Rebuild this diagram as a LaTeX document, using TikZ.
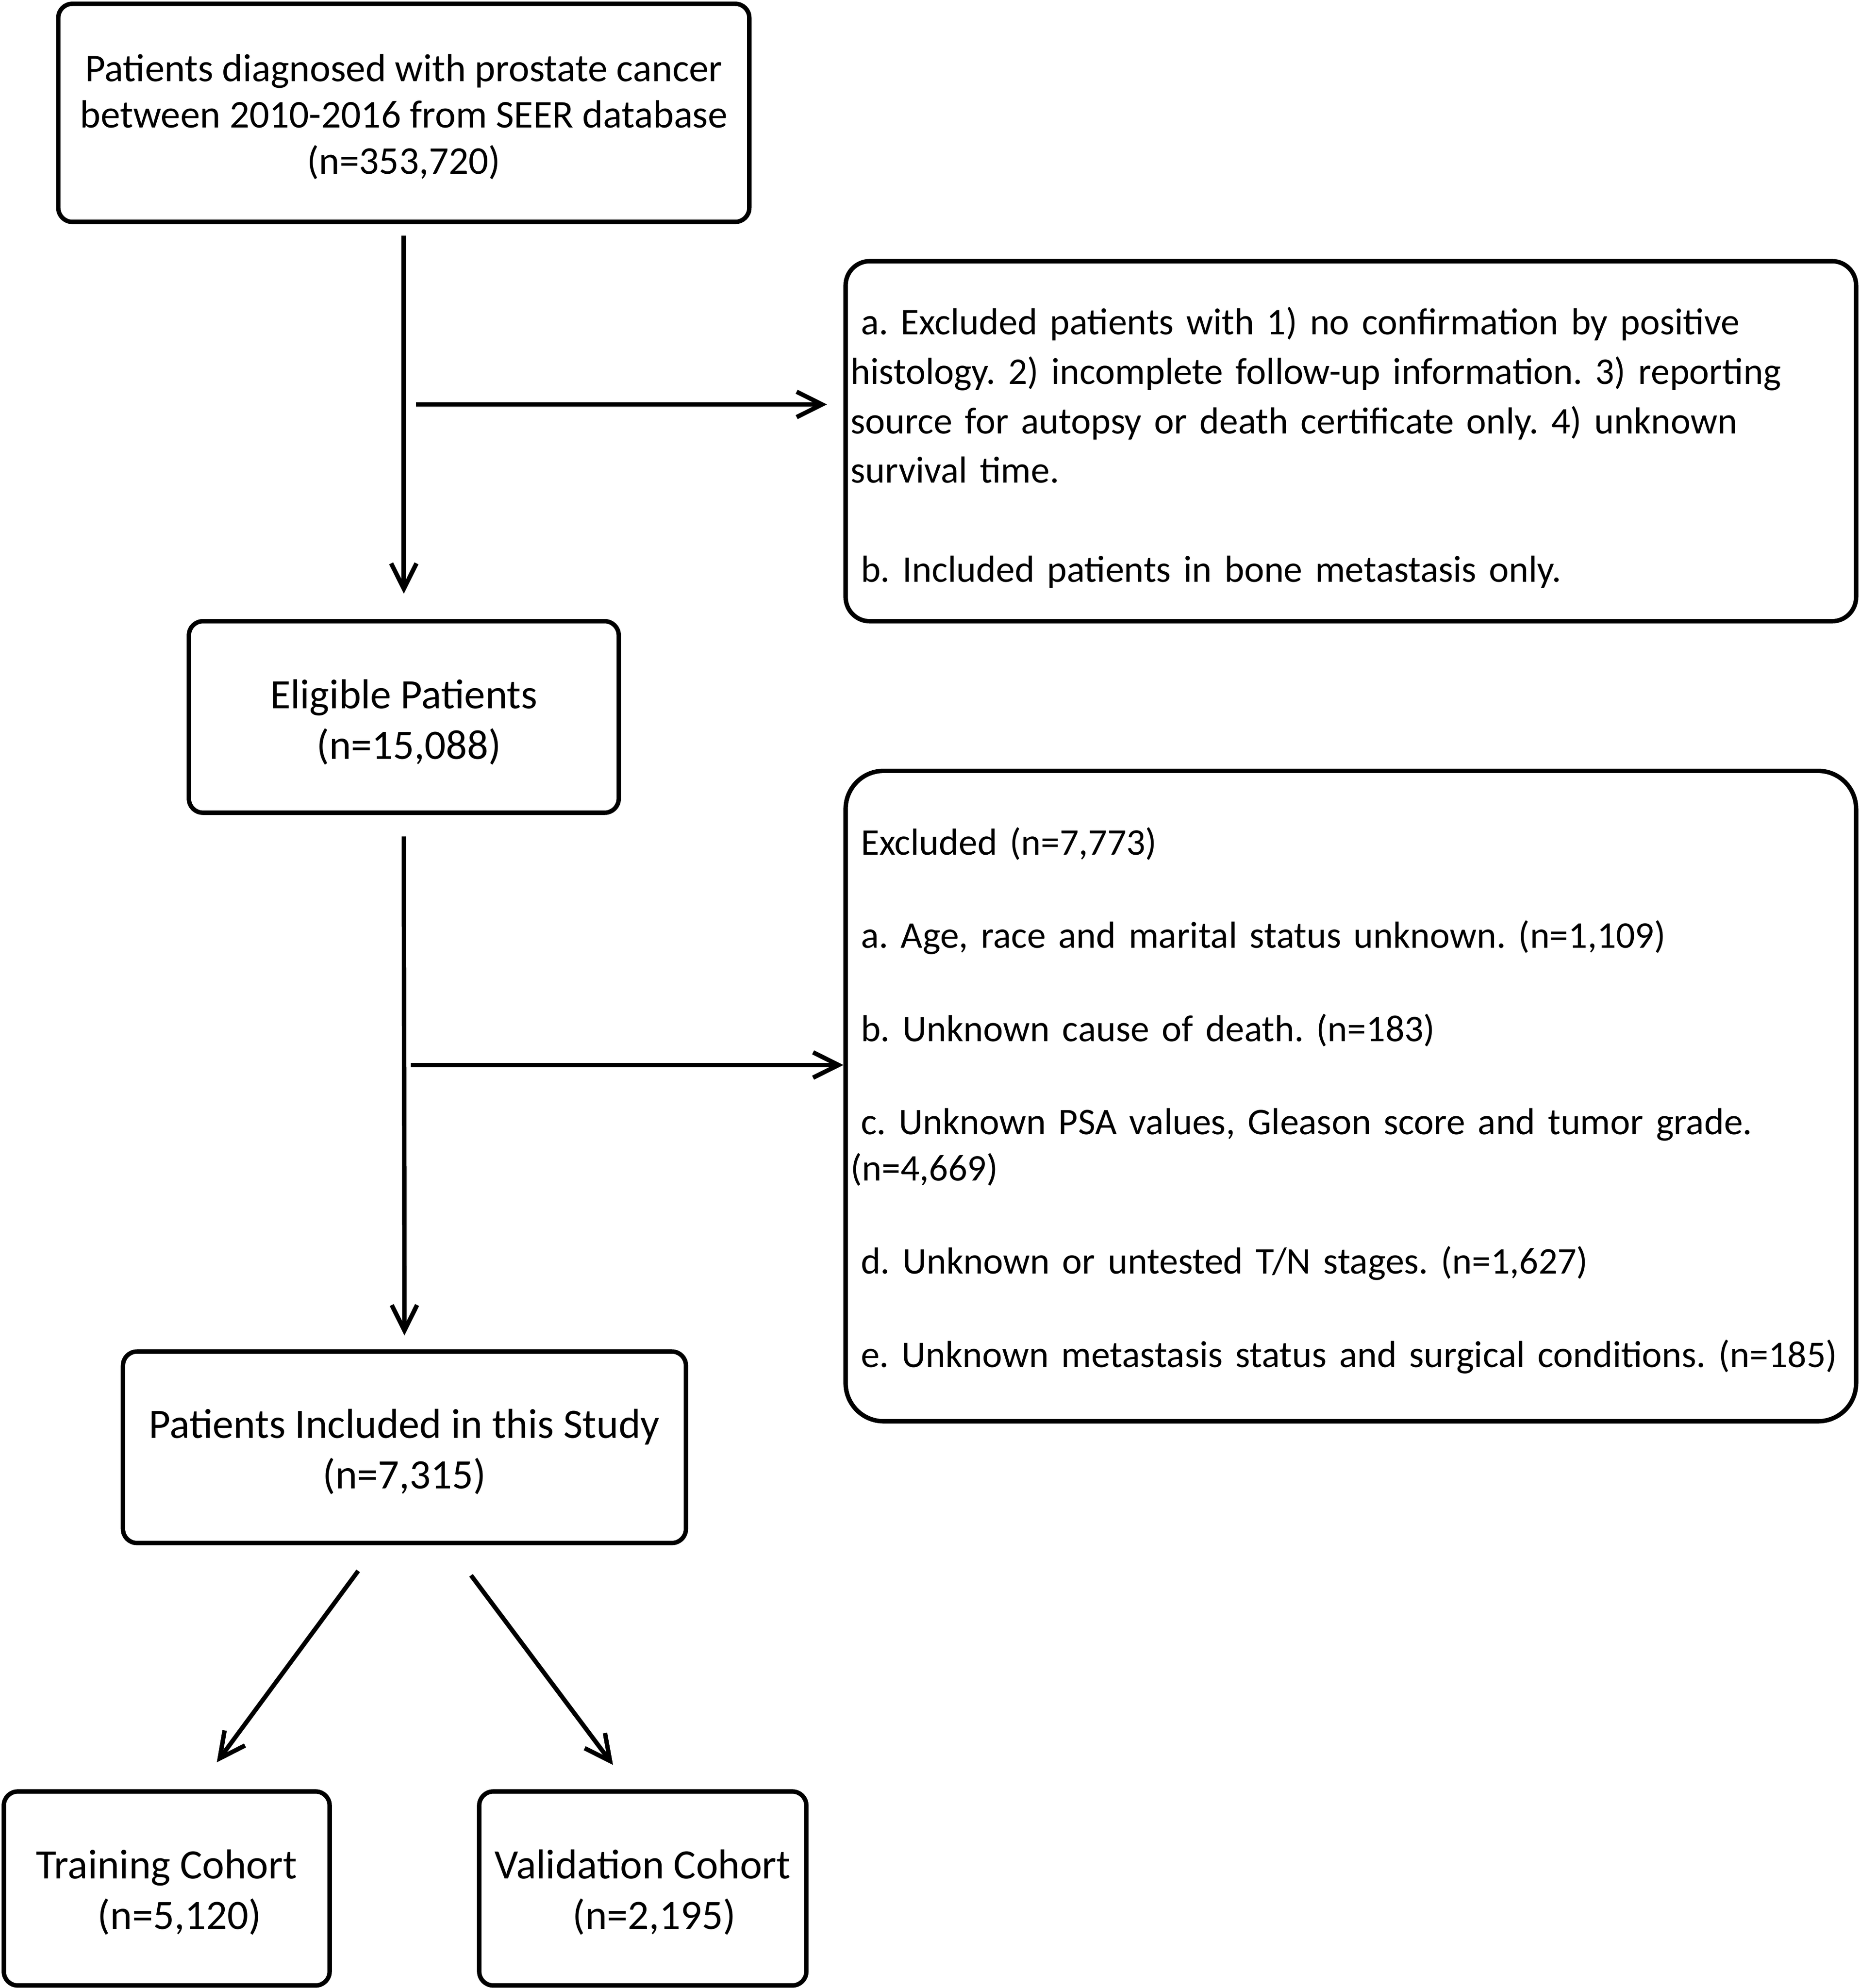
\documentclass[tikz,border=0pt]{standalone}
\usepackage{fontspec}
\setmainfont{Carlito}
\usetikzlibrary{arrows.meta}
\newcommand\mytopstrut[1]{\rule{0pt}{\dimexpr\fontcharht\font`(+#1\relax}}
\begin{document}
\frenchspacing
\begin{tikzpicture}[x=1pt,y=-1pt,
  box/.style={draw, line width=3.5pt, rounded corners=11pt, align=center, inner sep=0pt,
    font=\fontsize{33}{40}\selectfont},
  exbox/.style={draw, line width=3.5pt, align=left, inner xsep=4pt, inner ysep=0pt,
    text width=789pt, minimum width=797pt},
  arr/.style={line width=3.5pt, -{Straight Barb[length=20pt,width=20pt]}}
]
\useasboundingbox (0,0) rectangle (1467,1568);
\fill[white] (0,0) rectangle (1467,1568);

\node[box, minimum width=545pt, minimum height=172pt, font=\fontsize{31}{36.5}\selectfont] (b1) at (318.5,89)
  {\mytopstrut{5pt}Patients diagnosed with prostate cancer\\between 2010-2016 from SEER database\\(n=353,720)};
\node[box, minimum width=339pt, minimum height=151pt] (b2) at (318.5,565.5)
  {\mytopstrut{7pt}Eligible Patients\\\hspace*{8pt}(n=15,088)};
\node[box, minimum width=444pt, minimum height=151pt] (b3) at (319,1141.5)
  {\mytopstrut{6pt}Patients Included in this Study\\(n=7,315)};
\node[box, minimum width=257pt, minimum height=153pt] (b4) at (131.5,1489.5)
  {\mytopstrut{5pt}Training Cohort\\\hspace*{20pt}(n=5,120)};
\node[box, minimum width=258pt, minimum height=153pt] (b5) at (507,1489.5)
  {\mytopstrut{5pt}Validation Cohort\\\hspace*{18pt}(n=2,195)};

\node[exbox, rounded corners=19pt, minimum height=284pt, font=\fontsize{29.7}{39}\selectfont] (exA) at (1065.5,348)
  {\mytopstrut{10pt}\hspace*{8pt}a. Excluded patients with 1) no confirmation by positive\\
   histology. 2) incomplete follow-up information. 3) reporting\\
   source for autopsy or death certificate only. 4) unknown\\
   survival time.\\[39pt]
   \hspace*{8pt}b. Included patients in bone metastasis only.};

\node[exbox, rounded corners=30pt, minimum height=513pt, font=\fontsize{29.7}{36.5}\selectfont] (exB) at (1065.5,864.5)
  {\mytopstrut{7pt}\hspace*{8pt}Excluded (n=7,773)\\[37pt]
   \hspace*{8pt}a. Age, race and marital status unknown. (n=1,109)\\[37pt]
   \hspace*{8pt}b. Unknown cause of death. (n=183)\\[37pt]
   \hspace*{8pt}c. Unknown PSA values, Gleason score and tumor grade.\\
   (n=4,669)\\[37pt]
   \hspace*{8pt}d. Unknown or untested T/N stages. (n=1,627)\\[37pt]
   \hspace*{8pt}e. Unknown metastasis status and surgical conditions. (n=185)};

\coordinate (j1) at (328,319);
\coordinate (j2) at (324,840);
\coordinate (d1s) at (282.5,1239);
\coordinate (d1e) at (171,1390);
\coordinate (d2s) at (371.5,1242.5);
\coordinate (d2e) at (483.5,1392);

\draw[arr, shorten <=9pt, shorten >=20pt] (b1.south) -- (b2.north);
\draw[arr, shorten >=13pt] (j1) -- (j1 -| exA.west);
\draw[arr, shorten <=17pt, shorten >=11pt] (b2.south) -- (b3.north);
\draw[arr] (j2) -- (j2 -| exB.west);
\draw[arr] (d1s) -- (d1e);
\draw[arr] (d2s) -- (d2e);
\end{tikzpicture}
\end{document}
